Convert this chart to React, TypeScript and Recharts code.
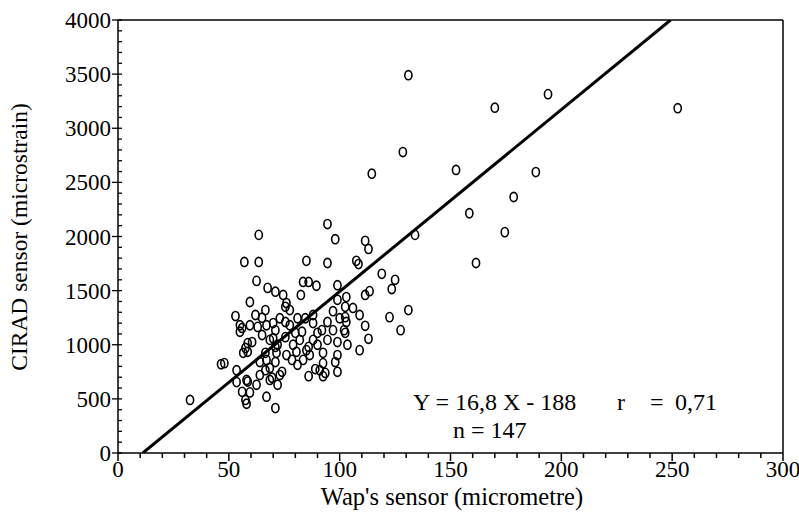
import { ScatterChart, Scatter, XAxis, YAxis, ReferenceLine } from 'recharts';

// Wap's sensor (micrometre) readings
const wapSensor = [
  32.5, 46.5, 48, 63.5, 57, 63.5, 62.5, 67.5, 71, 59.5, 53, 56,
  94.5, 98, 111.5, 113, 85, 94.5, 107.5, 108.5, 119, 125, 123.5, 83.5, 86, 89.5, 99, 82.5, 74.5, 103, 111.5, 113.5,
  131, 128.5, 114.5, 170, 194, 252.5, 152.5, 188.5, 178.5, 158.5, 134, 174.5, 161.5,
  99, 76, 75.5, 77.5, 81, 88, 88, 90, 94.5, 97, 102.5, 102.5, 106, 109, 111.5, 103, 102.5, 103.5, 113, 109, 122.5, 127.5, 131,
  70, 70, 68.5, 75.5, 77.5, 80, 82, 83, 79, 80.5, 85, 86, 86.5, 92.5, 99, 98, 92.5, 91, 93.5, 92.5, 89, 86, 99, 81, 74, 73, 71, 69.5, 71.5,
  55, 59.5, 63, 67, 71, 55, 58.5, 57.5, 56.5, 58.5, 60.5, 65, 71, 66.5, 64, 67, 68.5, 66.5, 53.5, 58, 53.5, 58.5, 62.5, 56, 59.5, 57.5, 58, 67, 71, 72, 68.5, 64,
  73, 75.5, 65, 62, 66.5, 72, 76, 78.5, 83.5, 88, 90, 94.5, 97, 99, 100, 92, 84.5, 102,
];

// CIRAD sensor (microstrain) readings
const ciradSensor = [
  490, 820, 830, 2015, 1765, 1765, 1590, 1525, 1490, 1395, 1265, 1155,
  2115, 1975, 1960, 1885, 1775, 1755, 1775, 1745, 1655, 1600, 1515, 1580, 1580, 1545, 1550, 1460, 1460, 1440, 1460, 1495,
  3490, 2780, 2580, 3190, 3315, 3185, 2615, 2595, 2365, 2215, 2015, 2040, 1755,
  1415, 1385, 1350, 1320, 1245, 1275, 1200, 1110, 1210, 1310, 1350, 1255, 1340, 1275, 1175, 1210, 1110, 1000, 1055, 950, 1255, 1135, 1320,
  1200, 1060, 1045, 1070, 1180, 1110, 1045, 1120, 1000, 935, 950, 980, 905, 925, 905, 840, 830, 765, 740, 710, 775, 710, 750, 815, 750, 720, 840, 695, 925,
  1180, 1180, 1165, 1180, 1135, 1120, 1015, 970, 925, 935, 1025, 1090, 980, 925, 840, 860, 785, 765, 765, 675, 655, 660, 630, 565, 560, 490, 455, 520, 415, 630, 675, 720,
  1245, 1210, 1250, 1275, 1320, 1000, 905, 860, 860, 1045, 1000, 1045, 1135, 1025, 1245, 1135, 1245, 1135,
];

const xTicks = Array.from({ length: 31 }, (_, i) => i * 10);
const yTicks = Array.from({ length: 41 }, (_, i) => i * 100);

const SLOPE = 16.8;
const INTERCEPT = -188;

const FONT = '"Liberation Serif", "Times New Roman", serif';

const points = wapSensor.map((x, i) => ({ x, y: ciradSensor[i] }));

const Marker = (props: any) => (
  <ellipse cx={props.cx} cy={props.cy} rx={3.6} ry={4.6} fill="none" stroke="#000" strokeWidth={1.6} />
);

const XTick = ({ x, y, payload }: any) => {
  const major = payload.value % 50 === 0;
  return (
    <g>
      <line x1={x} x2={x} y1={y} y2={y + (major ? 8 : 5)} stroke="#000" strokeWidth={1.5} />
      {major && (
        <text x={x} y={y + 24} textAnchor="middle" fontSize={23} fontFamily={FONT} fill="#000">
          {payload.value}
        </text>
      )}
    </g>
  );
};

const YTick = ({ x, y, payload }: any) => {
  const major = payload.value % 500 === 0;
  return (
    <g>
      <line x1={major ? x - 6 : x} x2={x + 4} y1={y} y2={y} stroke="#000" strokeWidth={1.3} />
      {major && (
        <text x={x - 7} y={y} dy="0.35em" textAnchor="end" fontSize={23} fontFamily={FONT} fill="#000">
          {payload.value}
        </text>
      )}
    </g>
  );
};

export default function App() {
  return (
    <div style={{ position: 'absolute', left: 0, top: 0, width: 799, height: 524, background: '#fff' }}>
      <ScatterChart width={799} height={524} margin={{ top: 20, right: 16, bottom: 0, left: 0 }}>
        <XAxis
          type="number"
          dataKey="x"
          domain={[0, 300]}
          ticks={xTicks}
          interval={0}
          height={71}
          tickSize={0}
          tickMargin={0}
          tickLine={false}
          tick={<XTick />}
          axisLine={{ stroke: '#000', strokeWidth: 1.5 }}
          allowDataOverflow
        />
        <YAxis
          type="number"
          dataKey="y"
          domain={[0, 4000]}
          ticks={yTicks}
          interval={0}
          width={118}
          tickSize={0}
          tickMargin={0}
          tickLine={false}
          tick={<YTick />}
          axisLine={{ stroke: '#000', strokeWidth: 1.5 }}
          allowDataOverflow
        />
        <ReferenceLine y={4000} stroke="#000" strokeWidth={1.5} />
        <ReferenceLine x={300} stroke="#000" strokeWidth={1.5} />
        <ReferenceLine
          segment={[
            { x: -INTERCEPT / SLOPE, y: 0 },
            { x: (4000 - INTERCEPT) / SLOPE, y: 4000 },
          ]}
          stroke="#000"
          strokeWidth={3}
          ifOverflow="hidden"
        />
        <Scatter data={points} shape={<Marker />} isAnimationActive={false} />
      </ScatterChart>
      <svg
        width={799}
        height={524}
        style={{ position: 'absolute', left: 0, top: 0, pointerEvents: 'none' }}
        fontFamily={FONT}
        fill="#000"
      >
        <text transform="translate(27,237) rotate(-90)" textAnchor="middle" fontSize={23.5}>
          CIRAD sensor (microstrain)
        </text>
        <text x={452} y={505} textAnchor="middle" fontSize={24.5}>
          Wap's sensor (micrometre)
        </text>
        <text x={413} y={410} fontSize={24}>
          Y = 16,8 X - 188
        </text>
        <text x={617} y={410} fontSize={24}>
          r
        </text>
        <text x={650} y={410} fontSize={24}>
          =
        </text>
        <text x={675} y={410} fontSize={24}>
          0,71
        </text>
        <text x={453} y={438} fontSize={24}>
          n = 147
        </text>
      </svg>
    </div>
  );
}
